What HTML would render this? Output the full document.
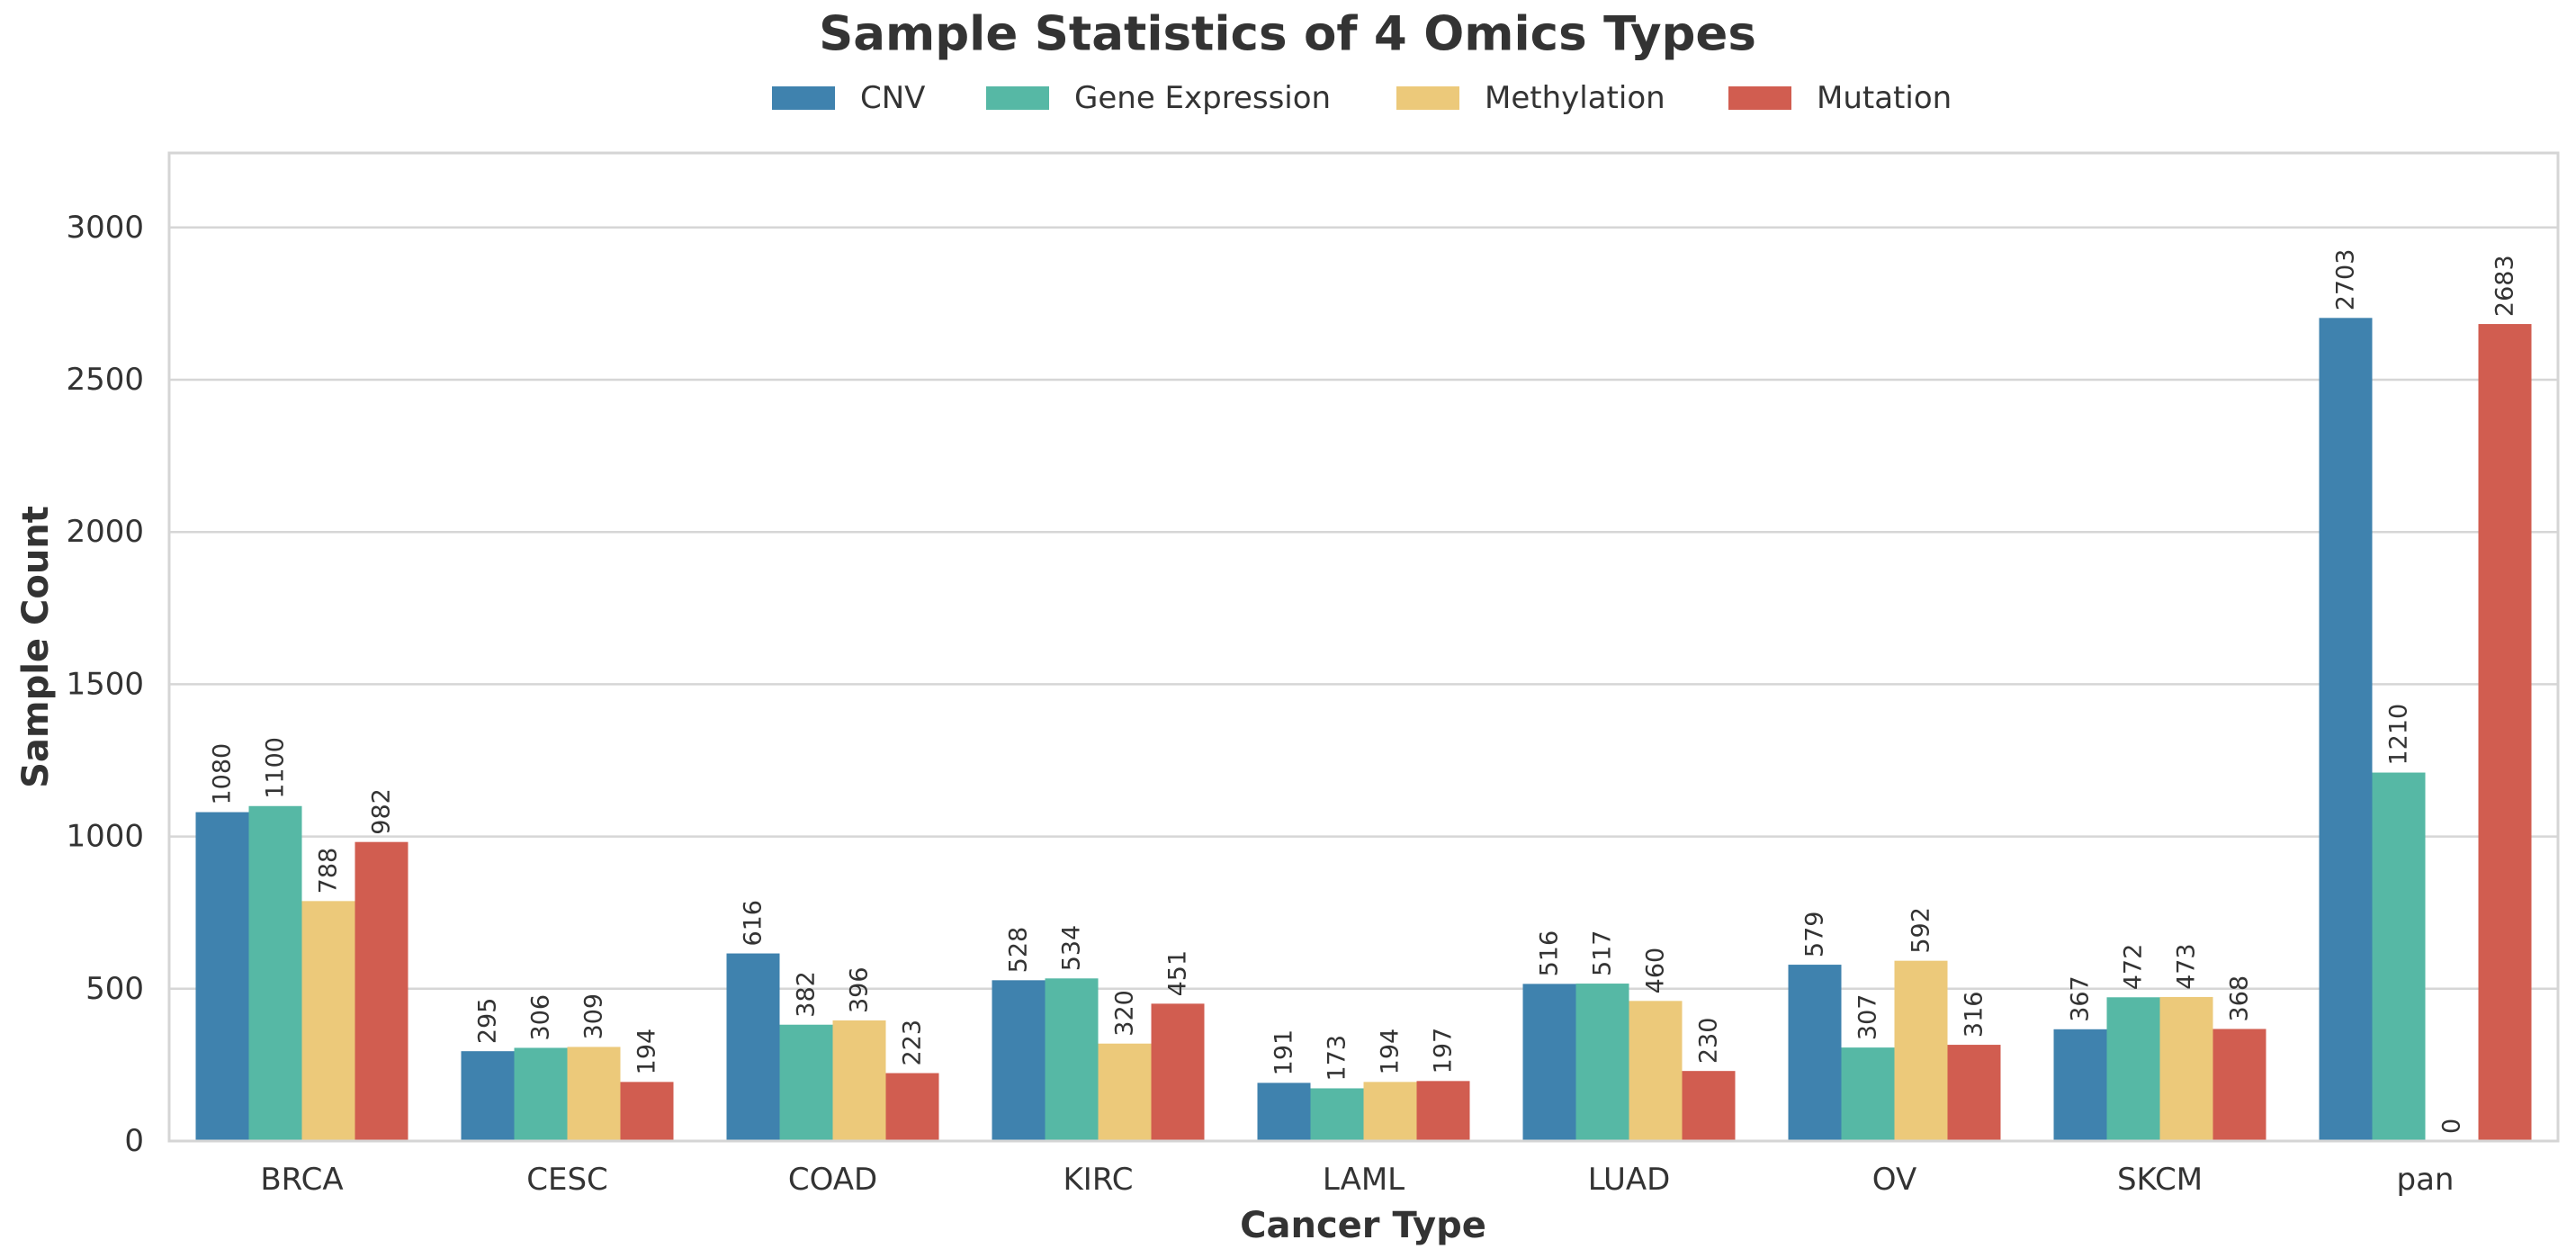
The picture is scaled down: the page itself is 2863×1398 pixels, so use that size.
<!DOCTYPE html>
<html><head><meta charset="utf-8"><style>
html,body{margin:0;padding:0;background:#fff;}
svg{display:block;font-family:"DejaVu Sans","Liberation Sans",sans-serif;}
</style></head><body>
<svg id="c" width="2863" height="1398" viewBox="0 0 2863 1398" xmlns="http://www.w3.org/2000/svg"></svg>
<script>
const s=document.getElementById('c');
const L=188,R=2843,T=170,Z=1268,k=169.2/500;
const cats=["BRCA","CESC","COAD","KIRC","LAML","LUAD","OV","SKCM","pan"];
const data=[[1080,1100,788,982],[295,306,309,194],[616,382,396,223],[528,534,320,451],[191,173,194,197],[516,517,460,230],[579,307,592,316],[367,472,473,368],[2703,1210,0,2683]];
const col=["#3f82ae","#56b8a5","#ecc97a","#d15d50"];
let h='<rect x="0" y="0" width="2863" height="1398" fill="#fff"/>';
for(let v=0;v<=3000;v+=500){const y=Z-v*k;
h+=`<line x1="${L}" x2="${R}" y1="${y}" y2="${y}" stroke="#d6d6d6" stroke-width="2.5"/>`;
h+=`<text x="160" y="${y}" text-anchor="end" dominant-baseline="central" font-size="34" fill="#333">${v}</text>`;}
const cw=(R-L)/9,bw=cw*0.8/4;
cats.forEach((c,i)=>{const cx=L+cw*(i+0.5);
data[i].forEach((v,j)=>{const x=cx-cw*0.4+bw*j,y=Z-v*k;
if(v>0)h+=`<rect x="${x}" y="${y}" width="${bw}" height="${v*k}" fill="${col[j]}"/>`;
const tx=x+bw/2,ty=y-8;
h+=`<text transform="translate(${tx},${ty}) rotate(-90)" dominant-baseline="central" font-size="27" fill="#333">${v}</text>`;});
h+=`<text x="${cx}" y="1311" text-anchor="middle" dominant-baseline="central" font-size="34" fill="#333">${c}</text>`;});
h+=`<rect x="${L}" y="${T}" width="${R-L}" height="${Z-T}" fill="none" stroke="#d5d5d5" stroke-width="3"/>`;
h+=`<text x="1431" y="38" text-anchor="middle" dominant-baseline="central" font-size="53" font-weight="bold" fill="#333">Sample Statistics of 4 Omics Types</text>`;
h+=`<text x="1515" y="1362" text-anchor="middle" dominant-baseline="central" font-size="40" font-weight="bold" fill="#333">Cancer Type</text>`;
h+=`<text transform="translate(40,719) rotate(-90)" text-anchor="middle" dominant-baseline="central" font-size="40" font-weight="bold" fill="#333">Sample Count</text>`;
const lg=[[858,"CNV"],[1096,"Gene Expression"],[1552,"Methylation"],[1921,"Mutation"]];
lg.forEach((l,j)=>{h+=`<rect x="${l[0]}" y="96" width="70" height="26" fill="${col[j]}"/>`;
h+=`<text x="${l[0]+98}" y="109" dominant-baseline="central" font-size="34" fill="#333">${l[1]}</text>`;});
s.innerHTML=h;
</script>
</body></html>
